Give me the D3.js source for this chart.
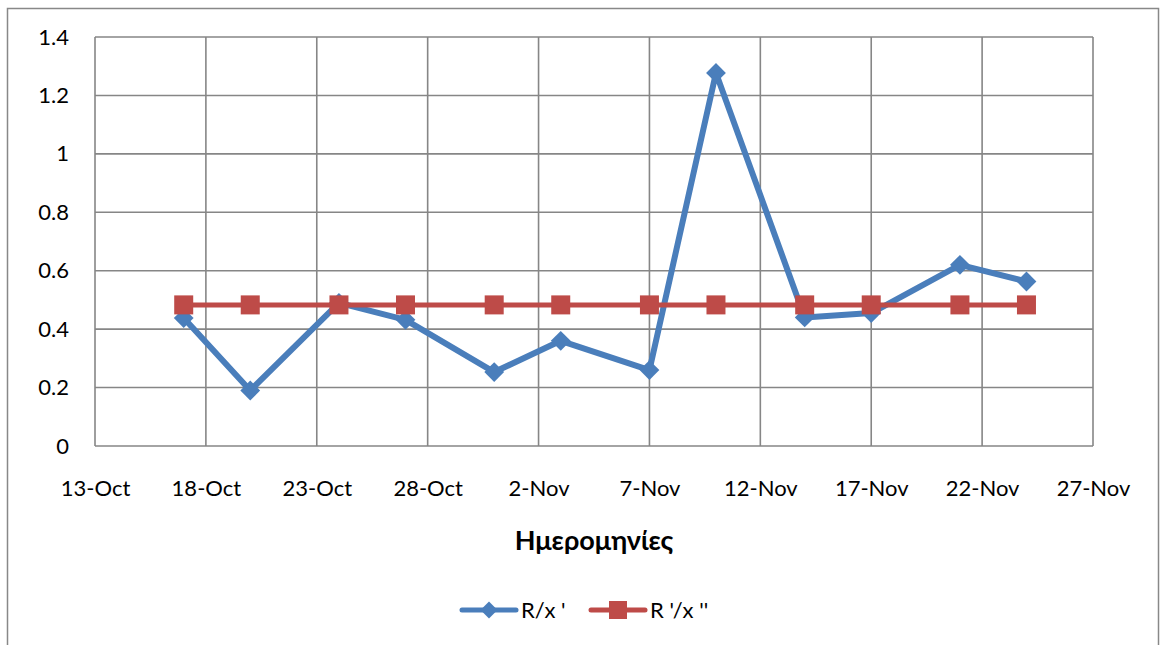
<!DOCTYPE html>
<html lang="el">
<head>
    <meta charset="UTF-8">
    <title>Ημερομηνίες</title>
    <style>
        body { margin: 0; background: #fff; }
        text { font-family: Lato, "Open Sans", sans-serif; fill: #000; }
    </style>
</head>
<body>
<script type="text/javascript" src="https://d3js.org/d3.v7.min.js"></script>
<script>
    // values
    const dates = ["2012-10-17", "2012-10-20", "2012-10-24", "2012-10-27", "2012-10-31", "2012-11-03",
        "2012-11-07", "2012-11-10", "2012-11-14", "2012-11-17", "2012-11-21", "2012-11-24"];
    const seriesA = [0.438, 0.19, 0.49, 0.432, 0.253, 0.36, 0.26, 1.277, 0.44, 0.455, 0.62, 0.563];
    const seriesB = [0.483, 0.483, 0.483, 0.483, 0.483, 0.483, 0.483, 0.483, 0.483, 0.483, 0.483, 0.483];
    const seriesNames = ["R/x '", "R '/x ''"];
    const xTicks = ["2012-10-13", "2012-10-18", "2012-10-23", "2012-10-28", "2012-11-02", "2012-11-07",
        "2012-11-12", "2012-11-17", "2012-11-22", "2012-11-27"];
    const yTicks = [0, 0.2, 0.4, 0.6, 0.8, 1, 1.2, 1.4];
    const xTitle = "Ημερομηνίες";

    const width = 1161, height = 645;
    const plotL = 95, plotR = 1093, plotT = 37, plotB = 446;
    const blue = "#4a7ebb", red = "#be4b48", grid = "#868686";

    const parse = d3.utcParse("%Y-%m-%d");

    const svg = d3.select("body").append("svg")
        .attr("width", width)
        .attr("height", height);

    // outer chart frame
    svg.append("rect")
        .attr("x", 7.5).attr("y", 8.5)
        .attr("width", 1151).attr("height", 660)
        .attr("fill", "none")
        .attr("stroke", "#888")
        .attr("stroke-width", 1.5);

    const x = d3.scaleUtc()
        .domain([parse(xTicks[0]), parse(xTicks[xTicks.length - 1])])
        .range([plotL, plotR]);
    const y = d3.scaleLinear()
        .domain([0, 1.4])
        .range([plotB, plotT]);

    // grid
    svg.append("g")
        .selectAll("line")
        .data(yTicks)
        .join("line")
        .attr("x1", plotL).attr("x2", plotR)
        .attr("y1", d => y(d)).attr("y2", d => y(d))
        .attr("stroke", grid).attr("stroke-width", 1.6);
    svg.append("g")
        .selectAll("line")
        .data(xTicks)
        .join("line")
        .attr("x1", d => x(parse(d))).attr("x2", d => x(parse(d)))
        .attr("y1", plotT).attr("y2", plotB)
        .attr("stroke", grid).attr("stroke-width", 1.6);

    // axes (labels only, Excel style)
    const yAxis = svg.append("g")
        .attr("transform", `translate(${plotL},0)`)
        .call(d3.axisLeft(y).tickValues(yTicks).tickSize(0).tickPadding(26).tickFormat(d3.format("")));
    const xAxis = svg.append("g")
        .attr("transform", `translate(0,${plotB})`)
        .call(d3.axisBottom(x).tickValues(xTicks.map(parse)).tickSize(0).tickPadding(34)
            .tickFormat(d3.utcFormat("%-d-%b")));
    [yAxis, xAxis].forEach(a => {
        a.attr("font-family", null).attr("font-size", null);
        a.select(".domain").remove();
        a.selectAll("text").style("font-size", "22px");
    });

    svg.append("text")
        .attr("x", 594).attr("y", 550)
        .attr("text-anchor", "middle")
        .style("font-size", "27px")
        .style("font-weight", "bold")
        .text(xTitle);

    const pts = s => dates.map((d, i) => ({date: parse(d), v: s[i]}));
    const line = d3.line().x(d => x(d.date)).y(d => y(d.v));

    // blue series
    svg.append("path")
        .datum(pts(seriesA))
        .attr("fill", "none")
        .attr("stroke", blue)
        .attr("stroke-width", 6)
        .attr("stroke-linejoin", "round")
        .attr("d", line);
    svg.append("g")
        .selectAll("path")
        .data(pts(seriesA))
        .join("path")
        .attr("transform", d => `translate(${x(d.date)},${y(d.v)}) rotate(45)`)
        .attr("d", "M-7,-7H7V7H-7Z")
        .attr("fill", blue);

    // red series
    svg.append("path")
        .datum(pts(seriesB))
        .attr("fill", "none")
        .attr("stroke", red)
        .attr("stroke-width", 5)
        .attr("d", line);
    svg.append("g")
        .selectAll("rect")
        .data(pts(seriesB))
        .join("rect")
        .attr("x", d => x(d.date) - 9.5)
        .attr("y", d => y(d.v) - 9.5)
        .attr("width", 19).attr("height", 19)
        .attr("fill", red);

    // legend
    const legend = svg.append("g").attr("transform", "translate(0,610)");
    const lg1 = legend.append("g").attr("transform", "translate(462,0)");
    lg1.append("line").attr("x1", 0).attr("x2", 54).attr("stroke", blue)
        .attr("stroke-width", 5).attr("stroke-linecap", "round");
    lg1.append("path").attr("transform", "translate(27,0) rotate(45)")
        .attr("d", "M-6,-6H6V6H-6Z").attr("fill", blue);
    lg1.append("text").attr("x", 59).attr("dy", "0.35em").style("font-size", "22px").text(seriesNames[0]);

    const lg2 = legend.append("g").attr("transform", "translate(591,0)");
    lg2.append("line").attr("x1", 0).attr("x2", 54).attr("stroke", red)
        .attr("stroke-width", 5).attr("stroke-linecap", "round");
    lg2.append("rect").attr("x", 18).attr("y", -9).attr("width", 18).attr("height", 18).attr("fill", red);
    lg2.append("text").attr("x", 59).attr("dy", "0.35em").style("font-size", "22px").text(seriesNames[1]);
</script>
</body>
</html>
